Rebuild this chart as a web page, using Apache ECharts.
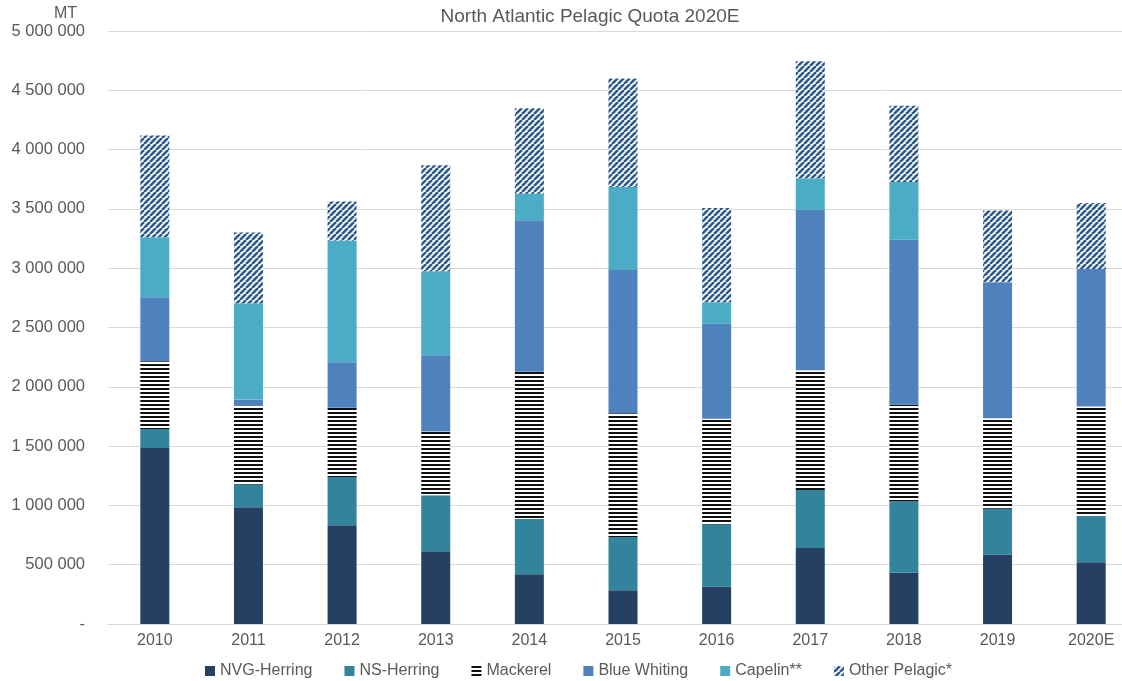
<!DOCTYPE html>
<html>
<head>
<meta charset="utf-8">
<script src="https://cdn.jsdelivr.net/npm/echarts@6/dist/echarts.min.js"></script>
<style>
  html, body { margin: 0; padding: 0; background: #fff; overflow: hidden; }
  /* the last category band runs a little past the right edge in the original */
  #main { width: 1138px; height: 681px; }
</style>
</head>
<body>
<div id="main"></div>
<script>
// quota per year, tonnes
var years = ["2010", "2011", "2012", "2013", "2014", "2015", "2016", "2017", "2018", "2019", "2020E"];
var nvgHerring = [1484000, 985000, 832000, 614000, 420000, 284000, 316000, 641000, 432000, 586000, 520000];
var nsHerring = [161000, 192000, 407000, 471000, 465000, 449000, 524000, 489000, 603000, 385000, 390000];
var mackerel = [570000, 665000, 584000, 538000, 1242000, 1043000, 891000, 1009000, 813000, 764000, 923000];
var blueWhiting = [540000, 50000, 384000, 643000, 1277000, 1209000, 802000, 1353000, 1392000, 1146000, 1161000];
var capelin = [505000, 813000, 1026000, 709000, 224000, 699000, 179000, 266000, 487000, 0, 0];
var otherPelagic = [858000, 597000, 329000, 892000, 720000, 916000, 795000, 987000, 643000, 605000, 555000];

var FONT = "Liberation Sans";
var GREY = "#595959";

// horizontal black lines (mackerel)
function hStripes() {
    var c = document.createElement("canvas");
    c.width = 4; c.height = 4;
    var ctx = c.getContext("2d");
    ctx.fillStyle = "#ffffff";
    ctx.fillRect(0, 0, 4, 4);
    ctx.fillStyle = "#111111";
    ctx.fillRect(0, 0, 4, 2);
    return c;
}

// upward diagonal stripes (other pelagic)
function dStripes() {
    var s = 6;
    var c = document.createElement("canvas");
    c.width = s; c.height = s;
    var ctx = c.getContext("2d");
    ctx.fillStyle = "#ffffff";
    ctx.fillRect(0, 0, s, s);
    ctx.strokeStyle = "#2c5a92";
    ctx.lineWidth = 2.6;
    for (var x = -s; x <= s; x += s) {
        ctx.beginPath();
        ctx.moveTo(x, s);
        ctx.lineTo(x + s, 0);
        ctx.stroke();
    }
    return c;
}

function fmt(v) {
    if (v === 0) return "-";
    return String(v).replace(/\B(?=(\d{3})+(?!\d))/g, " ");
}

function bar(name, data, color) {
    return {
        name: name,
        type: "bar",
        stack: "total",
        barWidth: 29,
        data: data,
        itemStyle: { color: color },
        emphasis: { disabled: true }
    };
}

var chart = echarts.init(document.getElementById("main"));
chart.setOption({
    animation: false,
    textStyle: { fontFamily: FONT },
    title: {
        text: "North Atlantic Pelagic Quota 2020E",
        left: 585,
        top: 2,
        textAlign: "center",
        textStyle: { fontFamily: FONT, fontSize: 19, fontWeight: "normal", color: GREY }
    },
    legend: {
        bottom: -3,
        left: 200,
        itemWidth: 10,
        itemHeight: 10,
        itemGap: 32,
        icon: "rect",
        textStyle: { fontFamily: FONT, fontSize: 16, color: GREY },
        data: ["NVG-Herring", "NS-Herring", "Mackerel", "Blue Whiting", "Capelin**", "Other Pelagic*"]
    },
    grid: { left: 108, top: 31, bottom: 57, right: 0, containLabel: false },
    xAxis: {
        type: "category",
        data: years,
        axisLine: { lineStyle: { color: "#d9d9d9", width: 1 } },
        axisTick: { show: false },
        axisLabel: { fontFamily: FONT, fontSize: 16, color: GREY, margin: 9 }
    },
    yAxis: {
        type: "value",
        min: 0,
        max: 5000000,
        interval: 500000,
        name: "MT",
        nameLocation: "end",
        nameGap: 9,
        nameTextStyle: { fontFamily: FONT, fontSize: 16, color: GREY, align: "right", padding: [0, 31, 0, 0] },
        axisLine: { show: false },
        axisTick: { show: false },
        splitLine: { lineStyle: { color: "#d9d9d9", width: 1 } },
        axisLabel: { fontFamily: FONT, fontSize: 16.5, color: GREY, margin: 23, formatter: fmt }
    },
    series: [
        bar("NVG-Herring", nvgHerring, "#264064"),
        bar("NS-Herring", nsHerring, "#31849b"),
        bar("Mackerel", mackerel, { image: hStripes(), repeat: "repeat" }),
        bar("Blue Whiting", blueWhiting, "#4f81bd"),
        bar("Capelin**", capelin, "#4bacc6"),
        bar("Other Pelagic*", otherPelagic, { image: dStripes(), repeat: "repeat" })
    ]
});
</script>
</body>
</html>
